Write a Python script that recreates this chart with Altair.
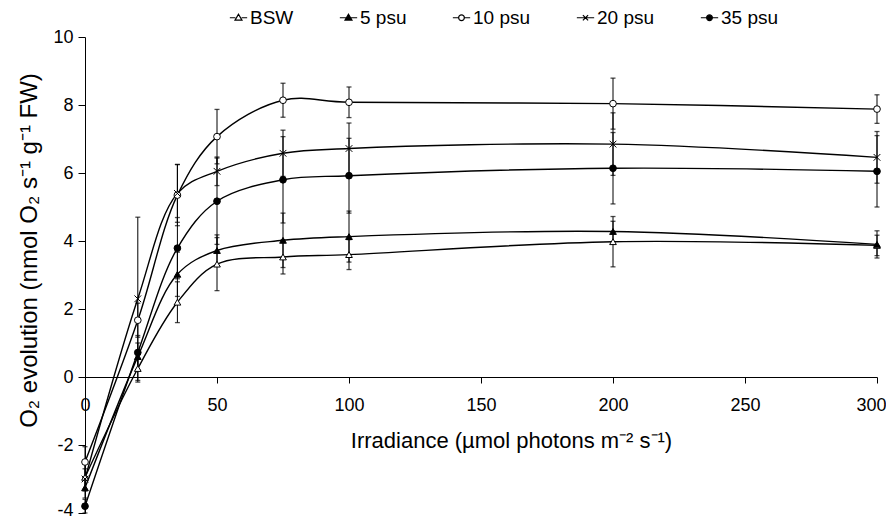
import altair as alt
import pandas as pd

# ---- data ----
irradiance = [0, 20, 35, 50, 75, 100, 200, 300]
series = ["BSW", "5 psu", "10 psu", "20 psu", "35 psu"]

bsw = [-2.95, 0.25, 2.2, 3.32, 3.53, 3.6, 3.98, 3.87]
bsw_err = [0.4, 0.4, 0.6, 0.78, 0.5, 0.44, 0.74, 0.3]
psu5 = [-3.26, 0.6, 3.02, 3.72, 4.02, 4.13, 4.28, 3.9]
psu5_err = [0.3, 0.4, 0.65, 0.46, 0.8, 0.75, 0.3, 0.4]
psu10 = [-2.5, 1.67, 5.35, 7.07, 8.14, 8.08, 8.04, 7.88]
psu10_err = [0.45, 0.5, 0.9, 0.8, 0.5, 0.45, 0.75, 0.42]
psu20 = [-3.0, 2.3, 5.4, 6.05, 6.58, 6.72, 6.85, 6.46]
psu20_err = [0.3, 2.4, 0.85, 0.42, 0.68, 0.75, 0.92, 0.76]
psu35 = [-3.8, 0.72, 3.79, 5.17, 5.8, 5.92, 6.14, 6.05]
psu35_err = [0.2, 0.5, 0.9, 1.27, 1.27, 1.1, 1.05, 1.05]

x_ticks = [0, 50, 100, 150, 200, 250, 300]
y_ticks = [-4, -2, 0, 2, 4, 6, 8, 10]

rows = []
for name, vals, errs in zip(series, [bsw, psu5, psu10, psu20, psu35],
                            [bsw_err, psu5_err, psu10_err, psu20_err, psu35_err]):
    for xv, v, e in zip(irradiance, vals, errs):
        rows.append({"series": name, "x": xv, "y": v, "lo": v - e, "hi": v + e})
df = pd.DataFrame(rows)

W, H = 792, 476
FONT = "Liberation Sans"

xs = alt.Scale(domain=[0, 300], nice=False)
ys = alt.Scale(domain=[-4, 10], nice=False)

x_axis = alt.Axis(values=x_ticks, offset=-H * 4 / 14, grid=False,
                  title="Irradiance (µmol photons m⁻² s⁻¹)",
                  tickSize=6, labelPadding=13, labelFontSize=18, labelFlush=False,
                  labelOffset={"condition": {"test": "datum.value == 300", "value": -6}, "value": 0},
                  labelOverlap=False, titleFontSize=22, titleFontWeight="normal",
                  titlePadding=16, titleX=426,
                  domainColor="black", tickColor="black", labelColor="black", titleColor="black")
y_axis = alt.Axis(values=y_ticks, grid=False,
                  title="O₂ evolution (nmol O₂ s⁻¹ g⁻¹ FW)",
                  tickSize=7, labelPadding=5, labelFontSize=18, labelFlush=False,
                  labelOffset={"condition": {"test": "datum.value == -4", "value": -3}, "value": 0},
                  labelExpr="'' + datum.value",
                  titleFontSize=24, titleFontWeight="normal", titlePadding=11, titleY=213,
                  domainColor="black", tickColor="black", labelColor="black", titleColor="black")

X = alt.X("x:Q", scale=xs, axis=x_axis)


def Y(field):
    return alt.Y(f"{field}:Q", scale=ys, axis=y_axis)


base = alt.Chart(df)

bars = base.mark_rule(color="black", strokeWidth=1).encode(x=X, y=Y("lo"), y2="hi:Q")
cap_lo = base.mark_tick(color="black", orient="horizontal", size=5, thickness=1.3).encode(x=X, y=Y("lo"))
cap_hi = base.mark_tick(color="black", orient="horizontal", size=5, thickness=1.3).encode(x=X, y=Y("hi"))

lines = base.mark_line(color="black", strokeWidth=1.4, interpolate="catmull-rom").encode(
    x=X, y=Y("y"), detail="series:N")

x_path = "M-1,-1L1,1M-1,1L1,-1"
point_shapes = ["triangle-up", "triangle-up", "circle", x_path, "circle"]
point_fills = ["white", "black", "white", "black", "black"]
point_strokes = ["black"] * 5

points = base.mark_point(filled=True, stroke="black", strokeWidth=1, opacity=1, size=45).encode(
    x=X, y=Y("y"),
    shape=alt.Shape("series:N", scale=alt.Scale(domain=series, range=point_shapes), legend=None),
    fill=alt.Fill("series:N", scale=alt.Scale(domain=series, range=point_fills), legend=None),
)

legend_shapes = [
    "M-1,0H-0.36M0.36,0H1M0,-0.4L0.4,0.27L-0.4,0.27Z",
    "M-1,0H1M0,-0.4L0.4,0.27L-0.4,0.27Z",
    "M-1,0H-0.33M0.33,0H1M-0.33,0A0.33,0.33,0,1,0,0.33,0A0.33,0.33,0,1,0,-0.33,0Z",
    "M-1,0H1M-0.3,-0.3L0.3,0.3M-0.3,0.3L0.3,-0.3",
    "M-1,0H1M-0.33,0A0.33,0.33,0,1,0,0.33,0A0.33,0.33,0,1,0,-0.33,0Z",
]

leg = alt.Legend(title=None, orient="none", legendX=144, legendY=-29, direction="horizontal",
                 labelFontSize=19, labelFont=FONT, labelColor="black", symbolSize=300,
                 columnPadding=43, labelOffset=2, symbolStrokeColor="black",
                 symbolStrokeWidth=1.2, symbolOpacity=1)

legend_layer = base.transform_filter("false").mark_point(
    filled=True, strokeWidth=1.2, opacity=1).encode(
    x=X, y=Y("y"),
    shape=alt.Shape("series:N", scale=alt.Scale(domain=series, range=legend_shapes), legend=leg),
    fill=alt.Fill("series:N", scale=alt.Scale(domain=series, range=point_fills), legend=leg),
    stroke=alt.Stroke("series:N", scale=alt.Scale(domain=series, range=point_strokes), legend=leg),
)

chart = alt.layer(bars, cap_lo, cap_hi, lines, points, legend_layer).resolve_scale(
    shape="independent", fill="independent", stroke="independent"
).properties(
    width=W, height=H,
    autosize=alt.AutoSizeParams(type="none"),
    padding={"left": 77, "top": 29, "right": 9, "bottom": 9},
).configure_view(stroke=None).configure_axis(labelFont=FONT, titleFont=FONT)

chart.save("out.html", embed_options={"renderer": "svg", "actions": False})
